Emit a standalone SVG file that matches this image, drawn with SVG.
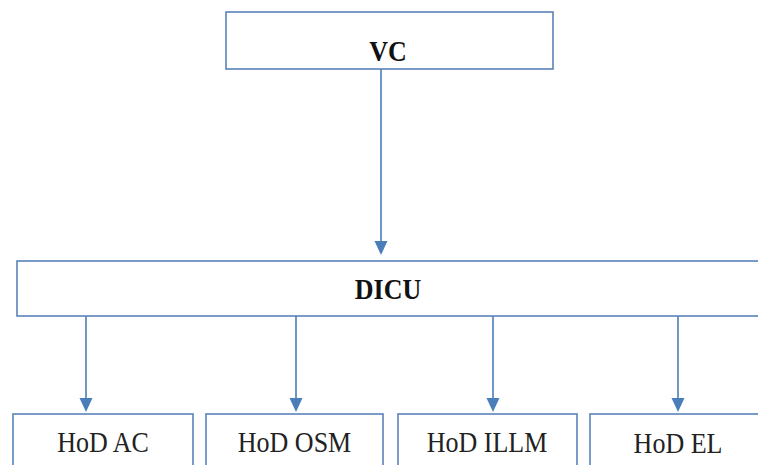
<svg xmlns="http://www.w3.org/2000/svg" width="758" height="465" viewBox="0 0 758 465">
<style>
.box{fill:#ffffff;stroke:#5a83b8;stroke-width:1.6}
.conn{stroke:#4a7ebb;stroke-width:1.6;fill:none}
.head{fill:#4a7ebb}
.b{font-family:"Liberation Serif","Times New Roman",serif;font-weight:bold;font-size:26px;fill:#111;text-anchor:middle}
.r{font-family:"Liberation Serif","Times New Roman",serif;font-size:26px;fill:#222;text-anchor:middle}
</style>
<rect width="758" height="465" fill="#ffffff"/>
<g id="connectors">
<line class="conn" x1="381" y1="69" x2="381" y2="243"/>
<polygon class="head" points="374.5,241 387.5,241 381,255"/>
<line class="conn" x1="86" y1="316" x2="86" y2="400"/>
<polygon class="head" points="79.5,398 92.5,398 86,412"/>
<line class="conn" x1="296" y1="316" x2="296" y2="400"/>
<polygon class="head" points="289.5,398 302.5,398 296,412"/>
<line class="conn" x1="493" y1="316" x2="493" y2="400"/>
<polygon class="head" points="486.5,398 499.5,398 493,412"/>
<line class="conn" x1="678" y1="316" x2="678" y2="400"/>
<polygon class="head" points="671.5,398 684.5,398 678,412"/>
</g>
<g id="vc">
<rect class="box" x="226" y="12" width="327" height="57"/>
<text class="b" transform="translate(388,61) scale(1,1.12)">VC</text>
</g>
<g id="dicu">
<rect class="box" x="17" y="261" width="760" height="55"/>
<text class="b" transform="translate(388,299) scale(1,1.12)">DICU</text>
</g>
<g id="hod-ac">
<rect class="box" x="13" y="414" width="180" height="70"/>
<text class="r" transform="translate(103,452) scale(1,1.12)">HoD AC</text>
</g>
<g id="hod-osm">
<rect class="box" x="206" y="414" width="177" height="70"/>
<text class="r" transform="translate(294.5,452) scale(1,1.12)">HoD OSM</text>
</g>
<g id="hod-illm">
<rect class="box" x="398" y="414" width="179" height="70"/>
<text class="r" transform="translate(487,452) scale(1,1.12)">HoD ILLM</text>
</g>
<g id="hod-el">
<rect class="box" x="590" y="414" width="180" height="70"/>
<text class="r" transform="translate(678,453) scale(1,1.12)">HoD EL</text>
</g>
</svg>
